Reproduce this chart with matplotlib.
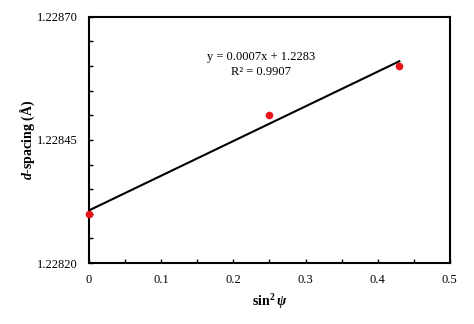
import numpy as np
import matplotlib
matplotlib.use("Agg")
import matplotlib.pyplot as plt
from matplotlib.ticker import MultipleLocator, FormatStrFormatter

plt.rcParams["font.family"] = ["Liberation Serif", "DejaVu Serif"]
plt.rcParams["mathtext.fontset"] = "custom"
plt.rcParams["mathtext.rm"] = "Liberation Serif:bold"
plt.rcParams["mathtext.it"] = "Liberation Serif:bold:italic"
plt.rcParams["mathtext.bf"] = "Liberation Serif:bold"

# Measured lattice spacing versus sin^2(psi)
sin2psi = [0.0, 0.25, 0.43]
d_spacing = [1.22830, 1.22850, 1.22860]

x_ticks = [0, 0.1, 0.2, 0.3, 0.4, 0.5]
y_ticks = [1.22820, 1.22845, 1.22870]

slope, intercept = np.polyfit(sin2psi, d_spacing, 1)

fig = plt.figure(figsize=(4.74, 3.24), dpi=100)
ax = fig.add_axes([0.188, 0.188, 0.761, 0.760])

xfit = np.array([min(sin2psi), max(sin2psi)])
ax.plot(xfit, slope * xfit + intercept, color="black", lw=1.5, zorder=2)
ax.plot(sin2psi, d_spacing, "o", color="#e8141b", ms=5.5, mec="none",
        zorder=3, clip_on=False)

ax.text(0.238, 1.228603, "y = 0.0007x + 1.2283\nR² = 0.9907",
        ha="center", va="center", fontsize=9, linespacing=1.3)

ax.set_xlim(0, 0.5)
ax.set_ylim(1.22820, 1.22870)
ax.set_xticks(x_ticks)
ax.set_yticks(y_ticks)
ax.xaxis.set_minor_locator(MultipleLocator(0.05))
ax.yaxis.set_minor_locator(MultipleLocator(0.00005))
ax.xaxis.set_major_formatter(FormatStrFormatter("%g"))
ax.yaxis.set_major_formatter(FormatStrFormatter("%.5f"))
ax.tick_params(which="both", direction="in", length=3, width=1,
               labelsize=9, pad=8, top=False, right=False)

for s in ax.spines.values():
    s.set_linewidth(1.5)

ax.set_xlabel(r"sin$^{\mathbf{2}}\,\psi$", fontsize=10, fontweight="bold",
              labelpad=4)
ax.set_ylabel(r"$d$-spacing (Å)", fontsize=10, fontweight="bold",
              labelpad=0)

fig.savefig("out.png", dpi=100)
